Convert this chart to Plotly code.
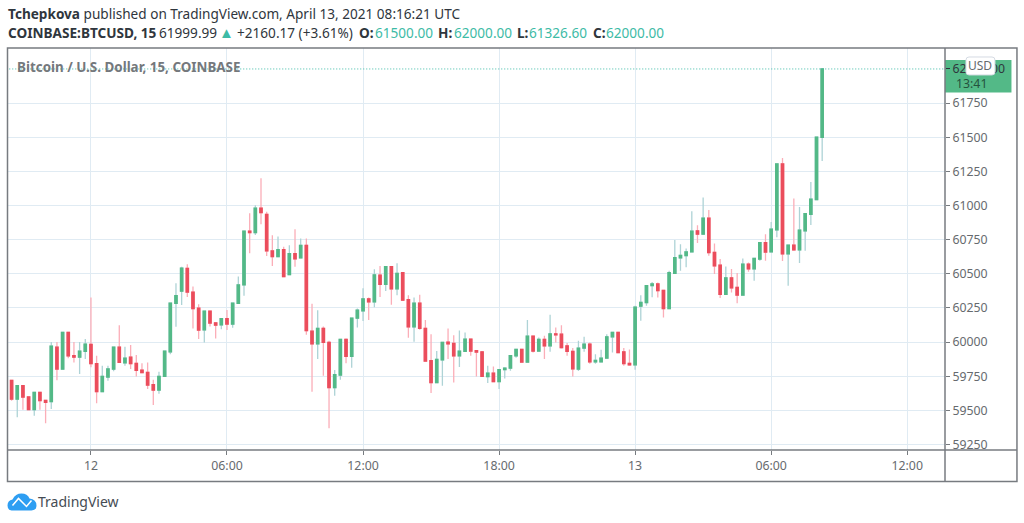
import pandas as pd
import plotly.graph_objects as go

opens = [59720,59583,59681,59598,59505,59632,59574,59564,59963,59803,60071,59900,59890,59932,59983,59842,
         59637,59744,59803,59963,59849,59890,59844,59795,59778,59688,59649,59749,59929,60283,60373,60539,
         60366,60249,60090,60227,60141,60127,60171,60132,60283,60419,60812,60802,60980,60936,60668,60626,
         60677,60495,60648,60617,60709,60080,59988,60100,59998,59666,59759,60019,59895,60175,60229,60317,
         60295,60490,60422,60553,60390,60509,60310,60112,60285,60100,59864,59703,59871,60000,59990,59900,
         59932,60022,59937,59929,59747,59773,59710,59798,59810,59900,59946,59854,60044,59934,60019,59973,
         60061,60058,59973,59932,59803,59956,59985,59856,59856,59883,60039,60071,59929,59844,59834,60263,
         60290,60414,60426,60378,60246,60504,60617,60634,60660,60815,60790,60907,60656,60564,60350,60471,
         60401,60345,60571,60537,60608,60729,60661,60822,61304,60647,60710,60676,60815,60936,61043,61500]
highs = [59720,59681,59681,59598,59632,59632,59574,60000,60000,60071,60071,60000,60000,60022,60327,59900,
         59827,59827,59963,60124,59966,59978,59905,59846,59851,59725,59783,59934,60290,60431,60551,60570,
         60407,60278,60227,60227,60141,60175,60236,60290,60480,60812,60943,61002,61199,60955,60782,60773,
         60699,60709,60826,60758,60758,60280,60234,60115,60010,59795,60019,60027,60175,60246,60395,60327,
         60534,60558,60553,60553,60578,60509,60344,60327,60346,60161,60058,59934,59998,60100,60051,60085,
         60071,60022,59937,59929,59827,59822,59803,59815,59900,59946,59946,60161,60044,60034,60046,60200,
         60107,60124,59993,59956,60010,60039,59998,59912,59944,60058,60071,60076,59956,59946,60266,60344,
         60419,60441,60436,60378,60522,60748,60716,60685,60958,60856,61058,60968,60722,60608,60554,60535,
         60506,60613,60583,60613,60729,60790,60880,61304,61348,60710,61051,60990,60941,61172,61503,62000]
lows = [59571,59449,59505,59505,59461,59505,59405,59510,59720,59803,59881,59851,59766,59876,59815,59552,
        59637,59717,59786,59851,59827,59803,59749,59776,59656,59539,59622,59749,59912,60112,60271,60331,
        60100,60022,59998,60115,60027,60095,60088,60105,60283,60339,60651,60785,60863,60631,60558,60626,
        60480,60495,60551,60617,60054,59637,59876,59754,59369,59608,59725,59846,59812,60107,60154,60161,
        60256,60331,60375,60273,60344,60302,60032,60002,60090,59856,59627,59703,59681,59876,59705,59817,
        59929,59900,59749,59749,59700,59710,59656,59734,59790,59885,59854,59851,59924,59929,59876,59929,
        59998,59954,59900,59749,59788,59929,59842,59842,59851,59876,59924,59920,59827,59827,59798,60156,
        60266,60329,60327,60180,60246,60504,60522,60548,60660,60725,60790,60632,60498,60323,60350,60364,
        60284,60345,60515,60450,60596,60596,60661,60768,60593,60413,60669,60579,60669,60858,61043,61326.6]
closes = [59583,59681,59598,59505,59632,59571,59559,59971,59803,60071,59900,59890,59934,59985,59842,59637,
          59749,59803,59963,59851,59883,59842,59793,59776,59686,59649,59749,59934,60285,60341,60541,60366,
          60246,60088,60227,60139,60124,60171,60132,60285,60419,60812,60802,60980,60948,60668,60626,60677,
          60480,60648,60609,60709,60085,59988,60100,59998,59666,59761,60019,59895,60175,60234,60317,60295,
          60492,60422,60553,60390,60504,60307,60112,60285,60100,59861,59703,59873,59998,59988,59900,59934,
          60022,59934,59927,59749,59773,59710,59798,59810,59900,59946,59854,60044,59934,60019,59973,60061,
          60054,59959,59932,59805,59956,59985,59856,59866,59883,60039,60071,59924,59842,59834,60256,60290,
          60414,60426,60378,60246,60509,60619,60634,60660,60812,60790,60907,60656,60559,60350,60471,60398,
          60345,60571,60537,60613,60729,60659,60827,61304,60647,60710,60676,60820,60941,61046,61500,62000]
times = pd.date_range("2021-04-11 20:30", periods=len(opens), freq="15min")

y_ticks = [59250, 59500, 59750, 60000, 60250, 60500, 60750, 61000, 61250, 61500, 61750]
x_tick_vals = ["2021-04-12 00:00", "2021-04-12 06:00", "2021-04-12 12:00", "2021-04-12 18:00",
               "2021-04-13 00:00", "2021-04-13 06:00", "2021-04-13 12:00"]
x_tick_text = ["12", "06:00", "12:00", "18:00", "13", "06:00", "12:00"]
last_price = 62000

UP = "#53b987"
DOWN = "#eb4d5c"
UP_WICK = "#aed3d6"
DOWN_WICK = "#fbaeb8"
GRID = "#e0ebf3"
FRAME = "#777b80"
TEAL = "#3dbba6"
DARK = "#2f363d"
GREY = "#666a6e"
FONT = "Noto Sans"

# plot area in page pixels
L, R, T, B = 7.5, 945.0, 48.0, 450.5


def px(x):
    return (x - L) / (R - L)


def py(y):
    return 1 - (y - T) / (B - T)


fig = go.Figure()

# wicks in a light colour, bodies on top with no whisker of their own
fig.add_trace(go.Candlestick(
    x=times, open=opens, high=highs, low=lows, close=closes,
    increasing=dict(line=dict(color=UP_WICK, width=1.3), fillcolor="rgba(0,0,0,0)"),
    decreasing=dict(line=dict(color=DOWN_WICK, width=1.3), fillcolor="rgba(0,0,0,0)"),
    showlegend=False, hoverinfo="skip",
))
fig.add_trace(go.Candlestick(
    x=times, open=opens, close=closes,
    high=[max(o, c) for o, c in zip(opens, closes)],
    low=[min(o, c) for o, c in zip(opens, closes)],
    increasing=dict(line=dict(color=UP, width=1.3), fillcolor=UP),
    decreasing=dict(line=dict(color=DOWN, width=1.3), fillcolor=DOWN),
    showlegend=False,
))
fig.add_trace(go.Scatter(
    x=["2021-04-11 20:00", "2021-04-13 14:00"], y=[last_price, last_price],
    yaxis="y2", mode="lines", line=dict(color=TEAL, width=1, dash="1px,2px"),
    showlegend=False, hoverinfo="skip",
))

y_range = [59210, 62153.5]
fig.update_layout(
    width=1024, height=523,
    margin=dict(l=L, r=1024 - R, t=T, b=523 - B),
    paper_bgcolor="white", plot_bgcolor="white",
    font=dict(family=FONT, color=GREY, size=12),
    boxgap=0.42,
    xaxis=dict(
        range=["2021-04-11 20:20:30", "2021-04-13 13:40"],
        rangeslider=dict(visible=False),
        tickvals=x_tick_vals, ticktext=x_tick_text,
        showgrid=True, gridcolor=GRID, gridwidth=1.2,
        ticks="outside", ticklen=4, tickcolor=FRAME,
        tickfont=dict(size=12.3, color=GREY), zeroline=False,
    ),
    yaxis=dict(
        side="right", range=y_range, tickvals=y_ticks, tickformat="d",
        showgrid=True, gridcolor=GRID, gridwidth=1.2,
        ticks="outside", ticklen=4, tickcolor=FRAME,
        tickfont=dict(size=12.3, color=GREY), zeroline=False,
    ),
    yaxis2=dict(
        side="right", overlaying="y", range=y_range, tickvals=[last_price],
        ticktext=["62000.00"], showgrid=False, zeroline=False,
        ticks="outside", ticklen=4, tickcolor=DARK,
        tickfont=dict(size=12.3, color=DARK),
    ),
)


def text(x, y, s, color=DARK, size=13.6, anchor="left", family=FONT):
    fig.add_annotation(
        xref="paper", yref="paper", x=px(x), y=py(y), text=s, showarrow=False,
        xanchor=anchor, yanchor="middle", borderpad=0, borderwidth=0,
        font=dict(family=family, size=size, color=color),
    )


def box(x0, y0, x1, y1, **kw):
    fig.add_shape(type="rect", xref="paper", yref="paper",
                  x0=px(x0), x1=px(x1), y0=py(y0), y1=py(y1), **kw)


def path(points, **kw):
    d = " ".join(f"{c} {px(x):.5f},{py(y):.5f}" if c != "Q" else
                 f"Q {px(x[0]):.5f},{py(x[1]):.5f} {px(y[0]):.5f},{py(y[1]):.5f}"
                 for c, x, y in points)
    fig.add_shape(type="path", xref="paper", yref="paper", path=d, **kw)


# price tag behind the axis labels
box(945, 60, 1011.5, 92.5, fillcolor=UP, line=dict(width=0), layer="below")

# frame
frame = dict(color=FRAME, width=1.5)
box(7, 48, 1017, 482, line=frame, layer="above")
fig.add_shape(type="line", xref="paper", yref="paper", x0=px(7), x1=px(1017),
              y0=py(B), y1=py(B), line=frame, layer="above")
fig.add_shape(type="line", xref="paper", yref="paper", x0=px(R), x1=px(R),
              y0=py(48), y1=py(482), line=frame, layer="above")

# USD badge sits over the price label
path([("M", 969, 57), ("L", 992, 57), ("Q", (995, 57), (995, 60)), ("L", 995, 72),
      ("Q", (995, 75), (992, 75)), ("L", 969, 75), ("Q", (966, 75), (966, 72)),
      ("L", 966, 60), ("Q", (966, 57), (969, 57))],
     fillcolor="white", line=dict(color="#d5dbe3", width=1), layer="above")
text(980.5, 66, "USD", GREY, 12, "center")
text(956.5, 84, "13:41", "#25523d", 12.3)

# header
text(7, 13, "<b>Tchepkova</b> published on TradingView.com, April 13, 2021 08:16:21 UTC", DARK)
text(7, 32, "<b>COINBASE:BTCUSD, 15</b>", DARK)
text(159, 32, "61999.99", DARK)
text(219, 32, "▲", TEAL, 15)
text(237, 32, "+2160.17 (+3.61%)", DARK)
for lx, label, vx, val in [(359, "O:", 375, "61500.00"), (438, "H:", 453.5, "62000.00"),
                           (517, "L:", 529, "61326.60"), (593, "C:", 606, "62000.00")]:
    text(lx, 32, f"<b>{label}</b>", DARK)
    text(vx, 32, val, TEAL)

text(17, 67, "<b>Bitcoin / U.S. Dollar, 15, COINBASE</b>", "#74787c", 13.4)

# TradingView logo
path([("M", 11, 511), ("Q", (7, 511), (7, 506)), ("Q", (7, 501), (12, 500)),
      ("Q", (15, 494), (21, 494)), ("Q", (27, 494), (29, 499)), ("Q", (36, 500), (36, 506)),
      ("Q", (36, 511), (31, 511)), ("L", 11, 511)],
     fillcolor="#2e9ef2", line=dict(width=0))
path([("M", 12, 506), ("L", 18, 499), ("L", 26, 507), ("L", 31, 501)],
     line=dict(color="white", width=1.5))
text(38, 502.5, "TradingView", "#454c54", 14)

fig.write_html(
    "out.html",
    config=dict(displayModeBar=False),
    post_script="document.body.style.margin='0';",
)
